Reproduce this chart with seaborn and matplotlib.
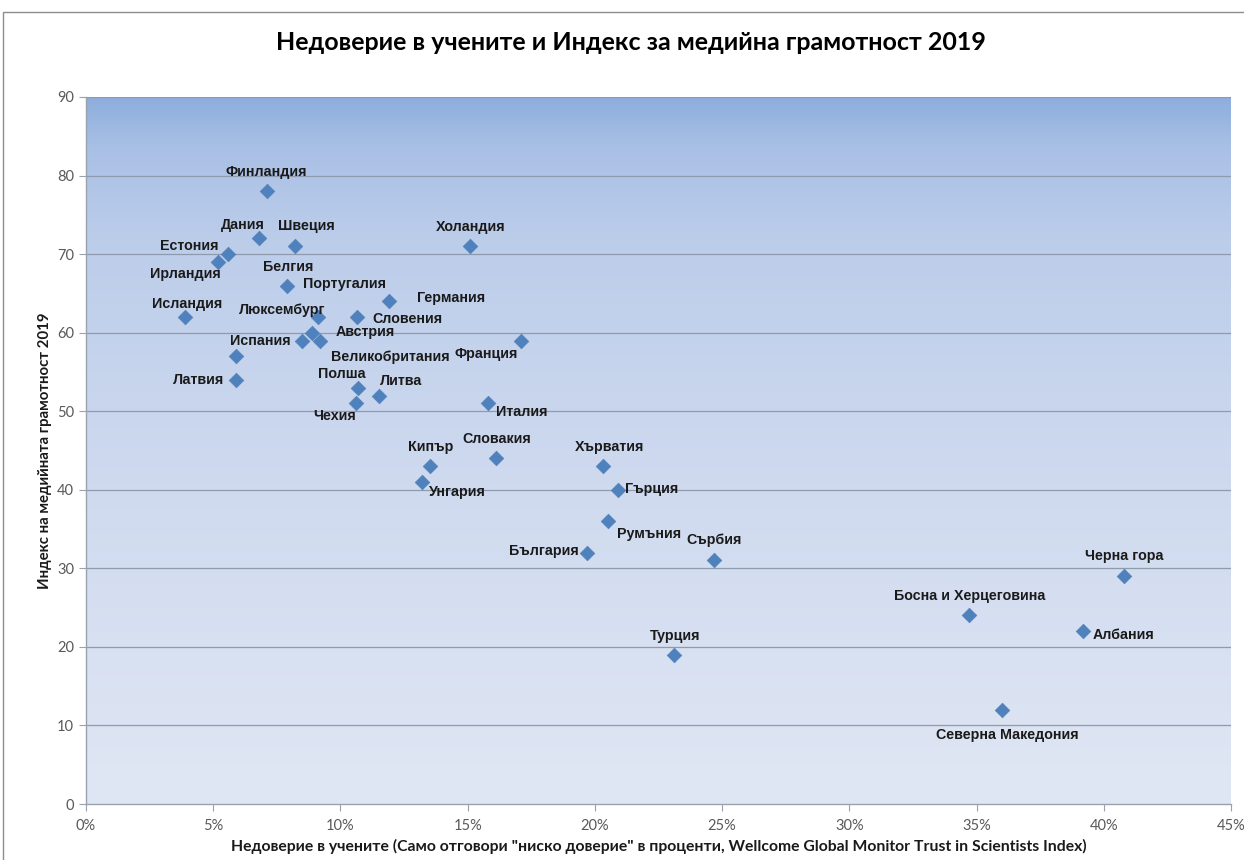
import matplotlib
matplotlib.use("Agg")
import matplotlib.pyplot as plt
import seaborn as sns
import numpy as np
import pandas as pd
from matplotlib.colors import LinearSegmentedColormap
from matplotlib.patches import Rectangle

# ДАННИ
държави = [
    "Финландия", "Дания", "Швеция", "Естония", "Ирландия", "Белгия",
    "Холандия", "Германия", "Словения", "Исландия", "Люксембург", "Австрия",
    "Португалия", "Великобритания", "Испания", "Франция", "Латвия", "Полша",
    "Литва", "Чехия", "Италия", "Кипър", "Словакия", "Унгария", "Хърватия",
    "Гърция", "Румъния", "България", "Сърбия", "Турция", "Черна гора",
    "Босна и Херцеговина", "Албания", "Северна Македония",
]

недоверие = [
    7.1, 6.8, 8.2, 5.6, 5.2, 7.9,
    15.1, 11.9, 10.65, 3.9, 9.1, 8.9,
    8.5, 9.2, 5.9, 17.1, 5.9, 10.7,
    11.5, 10.6, 15.8, 13.5, 16.1, 13.2, 20.3,
    20.9, 20.5, 19.7, 24.7, 23.1, 40.8,
    34.7, 39.2, 36.0,
]

индекс = [
    78, 72, 71, 70, 69, 66,
    71, 64, 62, 62, 62, 60,
    59, 59, 57, 59, 54, 53,
    52, 51, 51, 43, 44, 41, 43,
    40, 36, 32, 31, 19, 29,
    24, 22, 12,
]

y_ticks = [0, 10, 20, 30, 40, 50, 60, 70, 80, 90]
x_ticks = [0, 5, 10, 15, 20, 25, 30, 35, 40, 45]

# отместване на етикетите (пиксели)
отместване = [
    (0, 19), (-16, 13), (12, 20), (-39, 8), (-33, -12), (1, 19),
    (0, 19), (62, 3), (50, -2), (2, 13), (-35, 7), (53, 1),
    (42, 57), (70, -16), (24, 15), (-35, -13), (-38, 0), (-16, 14),
    (22, 15), (-21, -13), (34, -9), (1, 19), (1, 19), (36, -10), (7, 19),
    (34, 1), (41, -13), (-43, 2), (0, 20), (1, 19), (0, 20),
    (1, 19), (40, -4), (5, -25),
]

df = pd.DataFrame({
    "държава": държави,
    "недоверие": недоверие,
    "индекс": индекс,
})

sns.set_style("white")
plt.rcParams["font.family"] = ["Lato", "DejaVu Sans"]

fig = plt.figure(figsize=(12.44, 8.6), dpi=100)
ax = fig.add_axes([86 / 1244, 1 - 804 / 860, (1231 - 86) / 1244, (804 - 97) / 860])

# фон с преливане
фон = LinearSegmentedColormap.from_list(
    "фон",
    [(0.0, "#e0e7f4"), (0.45, "#cfdaef"), (0.8, "#bccdea"), (0.93, "#a9c0e5"), (1.0, "#8eaedd")],
)
градиент = np.linspace(0, 1, 256).reshape(-1, 1)
ax.imshow(
    градиент,
    extent=[0, 1, 0, 1],
    transform=ax.transAxes,
    origin="lower",
    aspect="auto",
    cmap=фон,
    zorder=0,
)

sns.scatterplot(
    data=df,
    x="недоверие",
    y="индекс",
    marker="D",
    s=55,
    color="#4f81bd",
    edgecolor="#4f81bd",
    linewidth=0.5,
    ax=ax,
    zorder=3,
)

for i, име in enumerate(държави):
    ax.annotate(
        име,
        (недоверие[i], индекс[i]),
        xytext=отместване[i],
        textcoords="offset pixels",
        ha="center",
        va="center",
        fontsize=10.3,
        fontweight="bold",
        family=["Liberation Sans", "DejaVu Sans"],
        color="#1a1a1a",
        zorder=4,
    )

ax.set_xlim(0, 45)
ax.set_ylim(0, 90)
ax.set_xticks(x_ticks)
ax.set_xticklabels([f"{v}%" for v in x_ticks])
ax.set_yticks(y_ticks)

for y in y_ticks[1:]:
    ax.axhline(y, color="#8e9bae", linewidth=0.9, zorder=1)

for s in ["top", "right"]:
    ax.spines[s].set_visible(False)
for s in ["left", "bottom"]:
    ax.spines[s].set_color("#9aa3ad")
    ax.spines[s].set_linewidth(1)

ax.tick_params(
    axis="both",
    direction="out",
    length=5,
    width=0.8,
    color="#9aa3ad",
    labelsize=10.5,
    labelcolor="#595959",
    left=True,
    bottom=True,
)
ax.tick_params(axis="x", pad=6)

ax.set_xlabel(
    'Недоверие в учените (Само отговори "ниско доверие" в проценти, Wellcome Global Monitor Trust in Scientists Index)',
    fontsize=11.3,
    fontweight="bold",
    color="#1a1a1a",
    labelpad=4,
)
ax.set_ylabel(
    "Индекс на медийната грамотност 2019",
    fontsize=10.8,
    fontweight="bold",
    color="#1a1a1a",
    labelpad=4,
)

fig.text(
    631 / 1244,
    1 - 43 / 860,
    "Недоверие в учените и Индекс за медийна грамотност 2019",
    ha="center",
    va="center",
    fontsize=18,
    fontweight="bold",
    color="#000000",
)

# рамка на диаграмата
fig.patches.append(
    Rectangle(
        (3 / 1244, -0.05),
        1.1,
        1.05 - 12 / 860,
        transform=fig.transFigure,
        fill=False,
        edgecolor="#8c8c8c",
        linewidth=1,
    )
)

fig.savefig("out.png", dpi=100)
